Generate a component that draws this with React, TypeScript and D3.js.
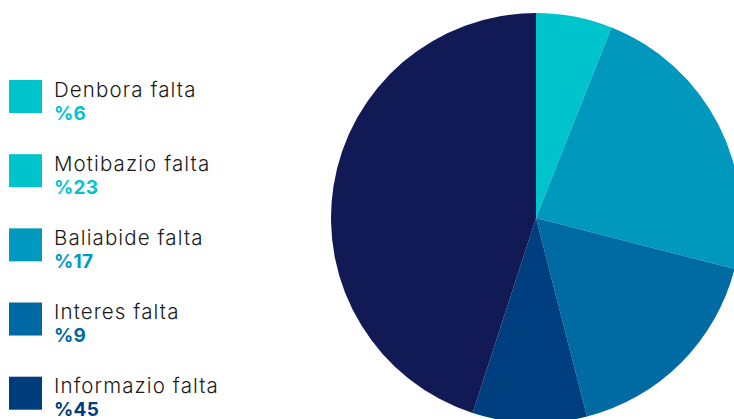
import React from "react";
import * as d3 from "d3";

const categories = ["Denbora falta", "Motibazio falta", "Baliabide falta", "Interes falta", "Informazio falta"];
const values = [6, 23, 17, 9, 45];
const sliceColors = ["#00c4cc", "#0099bd", "#006aa3", "#003f7f", "#111a55"];
const legendColors = ["#00c4cc", "#00c4cc", "#0099bf", "#0069a3", "#003d7d"];

export default function App() {
  const W = 734, H = 419;
  const cx = 536, cy = 218, r = 205;
  const pie = d3.pie<number>().sort(null).value((d) => d)(values);
  const arc = d3.arc<d3.PieArcDatum<number>>().innerRadius(0).outerRadius(r);
  const idx = d3.range(categories.length);
  const squareY = d3.scalePoint<number>().domain(idx).range([80, 376.7]);
  return (
    <svg width={W} height={H} style={{ position: "absolute", left: 0, top: 0, display: "block" }}>
      <rect width={W} height={H} fill="#fff" />
      <g transform={`translate(${cx},${cy})`}>
        {pie.map((p, i) => (
          <path key={i} d={arc(p) || ""} fill={sliceColors[i]} />
        ))}
      </g>
      {categories.map((c, i) => {
        const sy = squareY(i)!;
        return (
          <g key={c}>
            <rect x={9} y={sy} width={33} height={33} fill={legendColors[i]} />
            <text x={54} y={sy + 16.7} fontFamily="Inter" fontWeight={300} fontSize={20.5} letterSpacing={1.1} fill="#1a1a1a">{c}</text>
            <text x={54} y={sy + 39.5} fontFamily="Inter" fontWeight={700} fontSize={19} letterSpacing={0.3} fill={legendColors[i]}>{"%" + values[i]}</text>
          </g>
        );
      })}
    </svg>
  );
}
